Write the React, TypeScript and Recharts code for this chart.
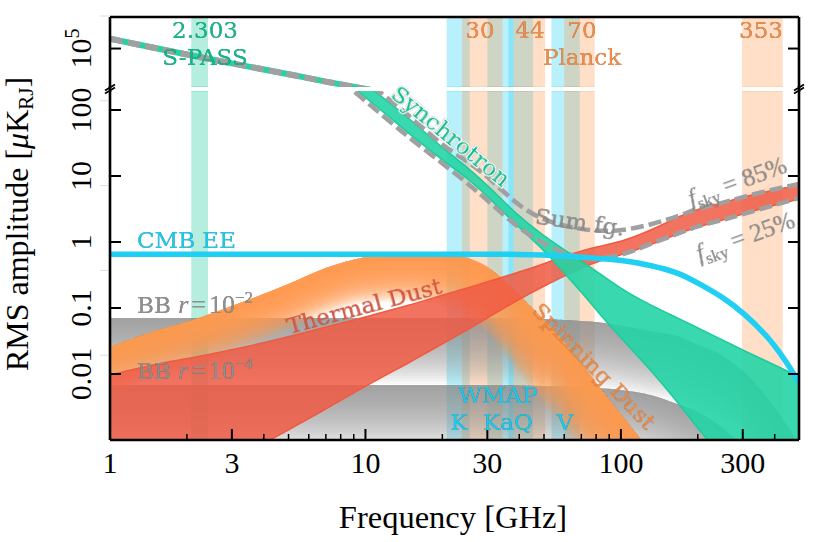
import React from "react";
import { ComposedChart, Area, Line, XAxis, YAxis } from "recharts";

const freq = [1, 1.5, 2, 3, 5, 7, 10, 15, 20, 25, 30, 40, 50, 60, 70, 80, 100, 130, 170, 200, 250, 300, 400, 500];
const upperSync = [4.74e5, 1.08e5, 3.9e4, 9.7e3, 1750, 545, 170, 50, null, null, null, null, null, null, null, null, null, null, null, null, null, null, null, null];
const syncHi = [4.5e5, 1e5, 3.6e4, 9e3, 2000, 720, 248, 73, 26.5, 13.7, 7.31, 2.39, 1.23, 0.757, 0.515, 0.364, 0.194, 0.111, 0.0681, 0.0498, 0.0327, 0.0231, 0.0137, 0.009];
const syncLo = [3.2e5, 7.5e4, 2.7e4, 6400, 1250, 480, 157, 41.8, 17.5, 9.33, 4.98, 1.63, 0.757, 0.339, 0.175, 0.0933, 0.0351, 0.0119, 0.00339, 0.00152, 5.33e-4, 2.31e-4, 6.1e-5, 2.15e-5];
const sum85 = [4.7e5, 1.1e5, 3.9e4, 1e4, 2200, 811, 275, 81, 28.5, 16.9, 10, 3.39, 2.15, 1.75, 1.57, 1.47, 1.47, 1.81, 2.48, 3.27, 3.9, 4.81, 6.35, 7.57];
const sum25 = [3e5, 7e4, 2.5e4, 6000, 1100, 433, 137, 36.4, 15.7, 7.83, 4.33, 1.57, 0.933, 0.681, 0.573, 0.552, 0.614, 0.933, 1.37, 1.75, 2.15, 2.65, 3.64, 4.64];
const dustHi = [0.00966, 0.0142, 0.0169, 0.0231, 0.0364, 0.0515, 0.0731, 0.111, 0.157, 0.201, 0.248, 0.351, 0.465, 0.614, 0.731, 0.84, 1.0, 1.47, 2.48, 3.16, 3.9, 4.81, 6.13, 7.31];
const dustLo = [4.49e-5, 1.07e-4, 2.01e-4, 4.81e-4, 1.42e-3, 2.95e-3, 6.58e-3, 0.0152, 0.0285, 0.0464, 0.0705, 0.137, 0.215, 0.305, 0.404, 0.498, 0.635, 0.9, 1.37, 1.69, 2.15, 2.65, 3.64, 4.49];
const spinHi = [0.0256, 0.0449, 0.0614, 0.107, 0.231, 0.404, 0.593, 0.705, 0.658, 0.573, 0.418, 0.157, 0.0658, 0.0305, 0.0142, 7.31e-3, 2.48e-3, 6.8e-4, 1.75e-4, 7.6e-5, 2.6e-5, 1.07e-5, 2.6e-6, 9.3e-7];
const spinFadeDecades = [0.7, 0.7, 0.7, 0.7, 0.7, 0.7, 0.7, 0.75, 0.8, 0.9, 1.0, 1.2, 1.3, 1.3, 1.3, 1.3, 1.3, 1.3, 1.3, 1.3, 1.3, 1.3, 1.3, 1.3];
const cmbEE = [0.655, 0.655, 0.655, 0.655, 0.655, 0.655, 0.655, 0.655, 0.655, 0.655, 0.655, 0.65, 0.635, 0.614, 0.59, 0.565, 0.533, 0.449, 0.339, 0.239, 0.147, 0.0869, 0.0295, 0.0073];
const bbHigh = [0.0705, 0.0705, 0.0705, 0.0705, 0.0705, 0.0705, 0.0705, 0.0705, 0.0705, 0.0705, 0.0705, 0.0697, 0.0682, 0.0658, 0.0636, 0.0614, 0.054, 0.0449, 0.0364, 0.0275, 0.0188, 0.0111, 0.00305, 8.4e-4];
const bbLow = [0.0068, 0.0068, 0.0068, 0.0068, 0.0068, 0.0068, 0.0068, 0.0068, 0.0068, 0.0068, 0.0068, 0.0067, 0.0066, 0.0065, 0.0064, 0.00614, 0.00573, 0.00481, 0.00339, 0.00265, 0.00152, 7.6e-4, 1.23e-4, 2.15e-5];

const wmapBands = [[20.8, 25.6], [30, 38], [36.3, 45.3], [53.5, 69]];
const planckBands = [[23.9, 34.4], [38, 50.5], [60, 79], [298, 430]];
const spassBand = [2.08, 2.42];

const fadeSteps = Array.from({ length: 24 }, (_, i) => i + 1);

const xTicks = [1, 2, 3, 4, 5, 6, 7, 8, 9, 10, 20, 30, 40, 50, 60, 70, 80, 90, 100, 200, 300, 400];
const xMajor = [1, 3, 10, 30, 100, 300];
const lowerTicks = [0.01, 0.1, 1, 10, 100];
const lowerTickLabels = ["0.01", "0.1", "1", "10", "100"];
const upperTicks = [1e5];

const xDomain = [1, 498];
const lowerDomain = [0.001, 194];
const upperDomain = [232, 1.45e7];

const rows = freq.map((f, i) => ({
  f,
  upperSync: upperSync[i],
  syncHi: syncHi[i],
  syncLo: syncLo[i],
  sum85: sum85[i],
  sum25: sum25[i],
  dustHi: dustHi[i],
  dustLo: dustLo[i],
  spinHi: spinHi[i],
  spinFade: spinFadeDecades[i],
  cmb: cmbEE[i],
  bbHigh: bbHigh[i],
  bbLow: bbLow[i],
}));

const CYAN = "#20d0f2";
const ORANGE = "#ff9a50";
const GREEN = "#25d4a5";
const RED = "#ee5a44";
const GRAY = "#a0a0a0";
const SERIF = "'Liberation Serif', serif";
const LABEL = "'DejaVu Serif', serif";
const AXIS = { stroke: "#000", strokeWidth: 2.6 };

const XTick = ({ x, y, payload }: any) => {
  const major = xMajor.includes(payload.value);
  return (
    <g>
      <line x1={x} x2={x} y1={y} y2={y - (major ? 11 : 6)} stroke="#000" strokeWidth={major ? 2 : 1.5} />
      {major && (
        <text x={x} y={y + 33} textAnchor="middle" fontFamily={SERIF} fontSize={30} fill="#000">
          {payload.value}
        </text>
      )}
    </g>
  );
};

const LeftTick = ({ x, y, payload }: any) => {
  const idx = lowerTicks.indexOf(payload.value);
  return (
    <g>
      <line x1={x} x2={x + 11} y1={y} y2={y} stroke="#000" strokeWidth={2} />
      <text transform={`translate(${x - 19},${y}) rotate(-90)`} textAnchor="middle" fontFamily={SERIF} fontSize={30} fill="#000">
        {idx >= 0 ? (
          lowerTickLabels[idx]
        ) : (
          <>
            10<tspan fontSize={20} dy={-12}>5</tspan>
          </>
        )}
      </text>
    </g>
  );
};

const RightTick = ({ x, y }: any) => <line x1={x} x2={x - 11} y1={y} y2={y} stroke="#000" strokeWidth={2} />;

const bandArea = (range: number[], dom: number[], color: string, key: string) => (
  <Area
    key={key}
    yAxisId="l"
    data={[
      { f: range[0], v: dom },
      { f: range[1], v: dom },
    ]}
    dataKey="v"
    type="linear"
    fill={color}
    fillOpacity={0.32}
    stroke={color}
    strokeOpacity={0.25}
    strokeWidth={1.5}
    dot={false}
    activeDot={false}
    isAnimationActive={false}
  />
);

const bands = (dom: number[]) => [
  bandArea(spassBand, dom, "#18c898", "s"),
  ...wmapBands.map((b, i) => bandArea(b, dom, "#22cff5", "w" + i)),
  ...planckBands.map((b, i) => bandArea(b, dom, "#ff9a50", "p" + i)),
];

const shadow = { filter: "drop-shadow(0.7px 0.7px 0.4px rgba(0,0,0,0.5))" } as React.CSSProperties;
const txt = (color: string) => ({ fill: color, fontFamily: LABEL, fontSize: 23, style: shadow });
const mathTxt = (color: string) => ({ fill: color, fontFamily: SERIF, fontSize: 25, style: shadow });
const halo = { stroke: "#fff", strokeWidth: 2.5, paintOrder: "stroke" } as any;

const faintTicks = ["a", "b", "c", "d", "e"];

const bbLabel = (exp: string) => (
  <>
    BB{" "}
    <tspan fontStyle="italic" fontFamily={SERIF} fontSize={26}>r</tspan>
    <tspan fontFamily={SERIF} fontSize={26} dx={3}>=</tspan>
    <tspan fontFamily={SERIF} fontSize={26} dx={3}>10</tspan>
    <tspan fontFamily={SERIF} fontSize={17} dy={-10}>{exp}</tspan>
  </>
);

const Overlay = () => (
  <svg width={830} height={542} style={{ position: "absolute", left: 0, top: 0, pointerEvents: "none" }}>
    {faintTicks.map((k, i) => (
      <line key={k} x1={100} x2={108} y1={16 + 84.8 * i} y2={16 + 84.8 * i} stroke="#dddddd" strokeWidth={1} />
    ))}
    {/* axis break */}
    <line x1={110} x2={110} y1={86} y2={92} stroke="#000" strokeWidth={2.6} />
    <line x1={799} x2={799} y1={86} y2={92} stroke="#000" strokeWidth={2.6} />
    {[110, 799].map((x) =>
      [-1.5, 1.5].map((d) => (
        <line key={x + "_" + d} x1={x - 5} x2={x + 5} y1={92 + d} y2={86 + d} stroke="#000" strokeWidth={1.8} />
      ))
    )}
    <text x={205} y={38} textAnchor="middle" {...txt("#10b98c")}>2.303</text>
    <text x={205} y={65} textAnchor="middle" {...txt("#10b98c")}>S-PASS</text>
    <text x={480} y={38} textAnchor="middle" {...txt("#ee8c48")}>30</text>
    <text x={530} y={38} textAnchor="middle" {...txt("#ee8c48")}>44</text>
    <text x={582} y={38} textAnchor="middle" {...txt("#ee8c48")}>70</text>
    <text x={761} y={38} textAnchor="middle" {...txt("#ee8c48")}>353</text>
    <text x={582} y={65} textAnchor="middle" {...txt("#ee8c48")}>Planck</text>
    <text x={498} y={403} textAnchor="middle" {...txt("#1cc8ec")}>WMAP</text>
    <text x={459} y={430} textAnchor="middle" {...txt("#1cc8ec")}>K</text>
    <text x={508} y={430} textAnchor="middle" {...txt("#1cc8ec")}>KaQ</text>
    <text x={565} y={430} textAnchor="middle" {...txt("#1cc8ec")}>V</text>
    <text x={137} y={248} {...txt("#1cc8ec")}>CMB EE</text>
    <text x={137} y={313} {...txt("#8f8f8f")}>{bbLabel("−2")}</text>
    <text x={137} y={379} {...txt("#8f8f8f")}>{bbLabel("−4")}</text>
    <text transform="translate(451,136) rotate(39)" textAnchor="middle" dy="0.35em" {...txt("#10b98c")} {...halo}>Synchrotron</text>
    <text transform="translate(364,306) rotate(-15)" textAnchor="middle" dy="0.35em" {...txt("#dc5640")}>Thermal Dust</text>
    <text transform="translate(594,366) rotate(46)" textAnchor="middle" dy="0.35em" {...txt("#ee8c48")}>Spinning Dust</text>
    <text transform="translate(580,222) rotate(8)" textAnchor="middle" dy="0.35em" {...txt("#8f8f8f")}>Sum fg.</text>
    <text transform="translate(737,181) rotate(-20)" textAnchor="middle" dy="0.35em" {...mathTxt("#8f8f8f")}>
      <tspan fontStyle="italic">f</tspan><tspan fontSize={17} dy={5}>sky</tspan><tspan dy={-5}> = 85%</tspan>
    </text>
    <text transform="translate(745,236) rotate(-20)" textAnchor="middle" dy="0.35em" {...mathTxt("#8f8f8f")}>
      <tspan fontStyle="italic">f</tspan><tspan fontSize={17} dy={5}>sky</tspan><tspan dy={-5}> = 25%</tspan>
    </text>
    <text x={453} y={528} textAnchor="middle" fontFamily={SERIF} fontSize={32.5} fill="#000">Frequency [GHz]</text>
    <text transform="translate(28,224) rotate(-90)" textAnchor="middle" fontFamily={SERIF} fontSize={32} fill="#000">
      RMS amplitude [<tspan fontStyle="italic">μ</tspan>K<tspan fontSize={21} dy={5}>RJ</tspan><tspan dy={-5}>]</tspan>
    </text>
  </svg>
);

const common = { dot: false, activeDot: false, isAnimationActive: false } as const;

export default function App() {
  return (
    <div style={{ position: "absolute", left: 0, top: 0, width: 830, height: 542, background: "#fff" }}>
      {/* lower panel */}
      <div style={{ position: "absolute", left: 0, top: 0 }}>
        <ComposedChart width={830} height={542} data={rows} margin={{ top: 91, right: 0, bottom: 0, left: 0 }}>
          <XAxis
            dataKey="f"
            type="number"
            scale="log"
            domain={xDomain}
            allowDataOverflow
            ticks={xTicks}
            interval={0}
            height={102}
            tick={<XTick />}
            tickLine={false}
            tickSize={0}
            tickMargin={0}
            axisLine={AXIS}
          />
          <YAxis
            yAxisId="l"
            type="number"
            scale="log"
            domain={lowerDomain}
            allowDataOverflow
            ticks={lowerTicks}
            interval={0}
            width={110}
            tick={<LeftTick />}
            tickLine={false}
            tickSize={0}
            tickMargin={0}
            axisLine={AXIS}
          />
          <YAxis
            yAxisId="r"
            orientation="right"
            type="number"
            scale="log"
            domain={lowerDomain}
            allowDataOverflow
            ticks={lowerTicks}
            interval={0}
            width={31}
            tick={<RightTick />}
            tickLine={false}
            tickSize={0}
            tickMargin={0}
            axisLine={AXIS}
          />
          {bands(lowerDomain)}
          {fadeSteps.map((k) => (
            <Area key={"bb1" + k} yAxisId="l" dataKey={(d: any) => [d.bbHigh * Math.pow(10, -k / 24), d.bbHigh]} type="monotone" fill="#888888" fillOpacity={0.062} stroke="none" {...common} />
          ))}
          {fadeSteps.map((k) => (
            <Area key={"bb2" + k} yAxisId="l" dataKey={(d: any) => [d.bbLow * Math.pow(10, -k / 24), d.bbLow]} type="monotone" fill="#888888" fillOpacity={0.062} stroke="none" {...common} />
          ))}
          {fadeSteps.map((k) => (
            <Area key={"spin" + k} yAxisId="l" dataKey={(d: any) => [d.spinHi * Math.pow(10, (-k / 24) * d.spinFade), d.spinHi]} type="monotone" fill={ORANGE} fillOpacity={0.15} stroke="none" {...common} />
          ))}
          <Area yAxisId="l" dataKey={(d: any) => [d.dustLo, d.dustHi]} type="basis" fill={RED} fillOpacity={0.85} stroke="#f05a40" strokeWidth={1.5} {...common} />
          <Area yAxisId="l" dataKey={(d: any) => [d.syncLo, d.syncHi]} type="basis" fill={GREEN} fillOpacity={0.9} stroke="#1ccb9c" strokeWidth={1.5} {...common} />
          <Line yAxisId="l" dataKey="sum85" type="basis" stroke={GRAY} strokeWidth={4.5} strokeDasharray="13 5" {...common} />
          <Line yAxisId="l" dataKey="sum25" type="basis" stroke={GRAY} strokeWidth={4.5} strokeDasharray="13 5" {...common} />
          <Line yAxisId="l" dataKey="cmb" type="basis" stroke={CYAN} strokeWidth={5.5} {...common} />
        </ComposedChart>
      </div>
      {/* upper panel */}
      <div style={{ position: "absolute", left: 0, top: 0 }}>
        <ComposedChart width={830} height={87} data={rows} margin={{ top: 0, right: 0, bottom: 0, left: 0 }}>
          <XAxis
            dataKey="f"
            type="number"
            orientation="top"
            scale="log"
            domain={xDomain}
            allowDataOverflow
            ticks={xMajor}
            height={17}
            tick={false}
            tickLine={false}
            axisLine={AXIS}
          />
          <YAxis
            yAxisId="l"
            type="number"
            scale="log"
            domain={upperDomain}
            allowDataOverflow
            ticks={upperTicks}
            interval={0}
            width={110}
            tick={<LeftTick />}
            tickLine={false}
            tickSize={0}
            tickMargin={0}
            axisLine={AXIS}
          />
          <YAxis
            yAxisId="r"
            orientation="right"
            type="number"
            scale="log"
            domain={upperDomain}
            allowDataOverflow
            ticks={upperTicks}
            interval={0}
            width={31}
            tick={<RightTick />}
            tickLine={false}
            tickSize={0}
            tickMargin={0}
            axisLine={AXIS}
          />
          {bands(upperDomain)}
          <Line yAxisId="l" dataKey="upperSync" type="monotone" stroke="#22d3a5" strokeWidth={6} {...common} />
          <Line yAxisId="l" dataKey="upperSync" type="monotone" stroke={GRAY} strokeWidth={6} strokeDasharray="13 5" {...common} />
        </ComposedChart>
      </div>
      <Overlay />
    </div>
  );
}
